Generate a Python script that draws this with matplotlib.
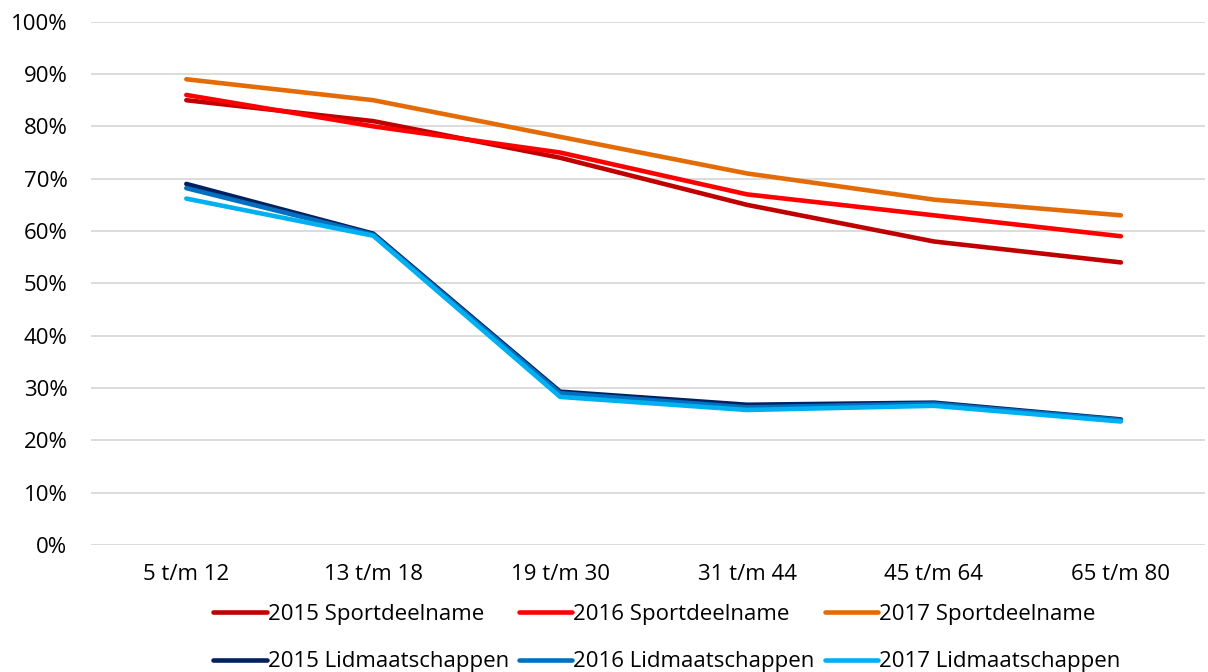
import numpy as np
import matplotlib.pyplot as plt

plt.rcParams['font.family'] = ['Open Sans', 'DejaVu Sans']

# ── data ───────────────────────────────────────
categories = ['5 t/m 12', '13 t/m 18', '19 t/m 30', '31 t/m 44', '45 t/m 64', '65 t/m 80']

sport_2015 = [85, 81, 74, 65, 58, 54]
sport_2016 = [86, 80, 75, 67, 63, 59]
sport_2017 = [89, 85, 78, 71, 66, 63]

lid_2015 = [69.0, 59.5, 29.3, 26.8, 27.2, 24.0]
lid_2016 = [68.2, 59.3, 29.0, 26.3, 27.0, 23.9]
lid_2017 = [66.2, 59.1, 28.3, 25.8, 26.6, 23.6]

series = [
    ('2015 Sportdeelname', sport_2015, '#C00000'),
    ('2016 Sportdeelname', sport_2016, '#FF0000'),
    ('2017 Sportdeelname', sport_2017, '#E36C09'),
    ('2015 Lidmaatschappen', lid_2015, '#002060'),
    ('2016 Lidmaatschappen', lid_2016, '#0070C0'),
    ('2017 Lidmaatschappen', lid_2017, '#00B0F0'),
]

# ── plot ───────────────────────────────────────
W, H = 1208, 672
fig = plt.figure(figsize=(W / 100, H / 100), dpi=100)
# plot area in pixels: x 91..1205, y 21.7..545
ax = fig.add_axes([91 / W, 1 - 545 / H, (1205 - 91) / W, (545 - 21.7) / H])

x = np.arange(len(categories))
lines = {}
for label, vals, col in series:
    ln, = ax.plot(x, vals, color=col, lw=3.3, label=label,
                  solid_capstyle='round', solid_joinstyle='round')
    lines[label] = ln

ax.set_xlim(-0.51, 5.45)
ax.set_ylim(0, 100)
ax.set_yticks(np.arange(0, 101, 10))
ax.set_yticklabels([f'{v}%' for v in range(0, 101, 10)])
ax.set_xticks(x)
ax.set_xticklabels(categories)
ax.tick_params(length=0, labelsize=16, colors='#000000')
ax.tick_params(axis='x', pad=14)
ax.tick_params(axis='y', pad=17)
ax.grid(axis='y', color='#D9D9D9', lw=1.3)
ax.set_axisbelow(True)
for s in ax.spines.values():
    s.set_visible(False)

# legend: matplotlib fills columns first, so interleave the two rows
order = ['2015 Sportdeelname', '2015 Lidmaatschappen',
         '2016 Sportdeelname', '2016 Lidmaatschappen',
         '2017 Sportdeelname', '2017 Lidmaatschappen']
fig.legend([lines[k] for k in order], order, loc='center',
           bbox_to_anchor=(667 / W, 1 - 638 / H), ncol=3, frameon=False,
           fontsize=16, handlelength=2.4, handletextpad=0.05,
           columnspacing=0.45, labelspacing=1.2, borderpad=0)

fig.savefig('out.png', dpi=100)
